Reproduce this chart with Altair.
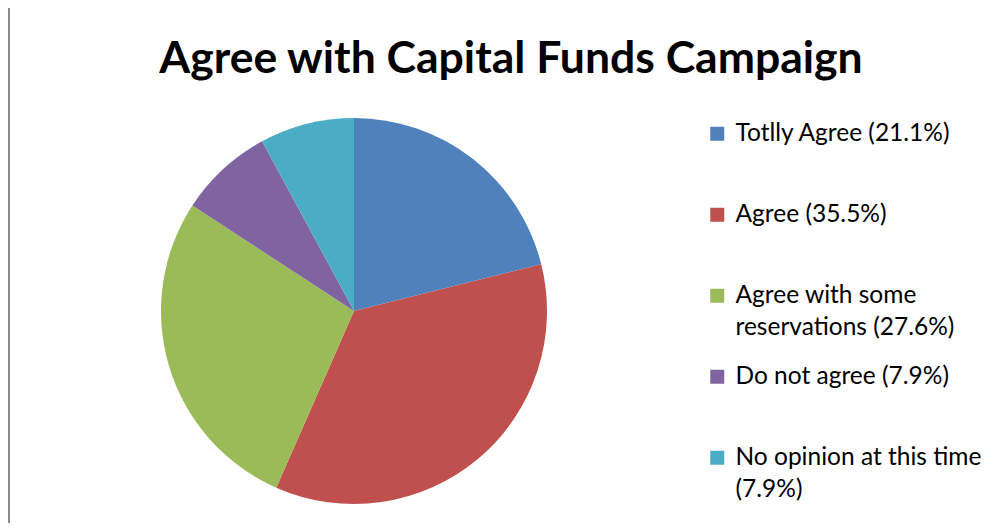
import altair as alt
import pandas as pd
import json

categories = [
    "Totlly Agree (21.1%)",
    "Agree (35.5%)",
    "Agree with some reservations (27.6%)",
    "Do not agree (7.9%)",
    "No opinion at this time (7.9%)",
]
values = [21.1, 35.5, 27.6, 7.9, 7.9]
colors = ["#4F81BD", "#C0504D", "#9BBB59", "#8064A2", "#4BACC6"]
# legend text, broken into lines as in the original (every entry occupies two line slots)
legend_lines = [
    ["Totlly Agree (21.1%)", ""],
    ["Agree (35.5%)", ""],
    ["Agree with some", "reservations (27.6%)"],
    ["Do not agree (7.9%)", ""],
    ["No opinion at this time", "(7.9%)"],
]
title_text = "Agree with Capital Funds Campaign"

df = pd.DataFrame({"category": categories, "value": values, "order": list(range(len(categories)))})

wrap_map = {c: l for c, l in zip(categories, legend_lines)}
label_expr = json.dumps(wrap_map) + "[datum.label]"

FONT = "Lato"

pie = alt.Chart(df).mark_arc(outerRadius=193, stroke=None).encode(
    theta=alt.Theta("value:Q", stack=True),
    order=alt.Order("order:Q"),
    color=alt.Color(
        "category:N",
        sort=categories,
        scale=alt.Scale(domain=categories, range=colors),
        legend=alt.Legend(
            title=None,
            orient="none",
            legendX=697,
            legendY=113.5,
            symbolType="square",
            symbolSize=196,
            symbolStrokeWidth=0,
            labelFont=FONT,
            labelFontSize=24.5,
            labelColor="#000000",
            labelOffset=6,
            labelLimit=400,
            rowPadding=24,
            padding=0,
            labelExpr=label_expr,
        ),
    ),
    x=alt.value(346),
    y=alt.value(303),
)

title = alt.Chart(pd.DataFrame({"t": [title_text]})).mark_text(
    font=FONT, fontSize=44.5, fontWeight="bold", color="#000000", align="center", baseline="alphabetic"
).encode(text="t:N", x=alt.value(503), y=alt.value(65))

border_top = alt.Chart(pd.DataFrame({"a": [0]})).mark_rule(color="#888888", strokeWidth=2).encode(
    x=alt.value(0), x2=alt.value(1000), y=alt.value(-1.5)
)
border_left = alt.Chart(pd.DataFrame({"a": [0]})).mark_rule(color="#888888", strokeWidth=2).encode(
    x=alt.value(1), y=alt.value(-2.5), y2=alt.value(530)
)

chart = alt.layer(pie, title, border_top, border_left).properties(
    width=985, height=515, padding=0, autosize=alt.AutoSizeParams(type="none")
).configure(
    background="white",
    style={"guide-label": {"lineHeight": 32}},
).configure_view(stroke=None)

chart.save("out.html", embed_options={"renderer": "svg", "actions": False})
